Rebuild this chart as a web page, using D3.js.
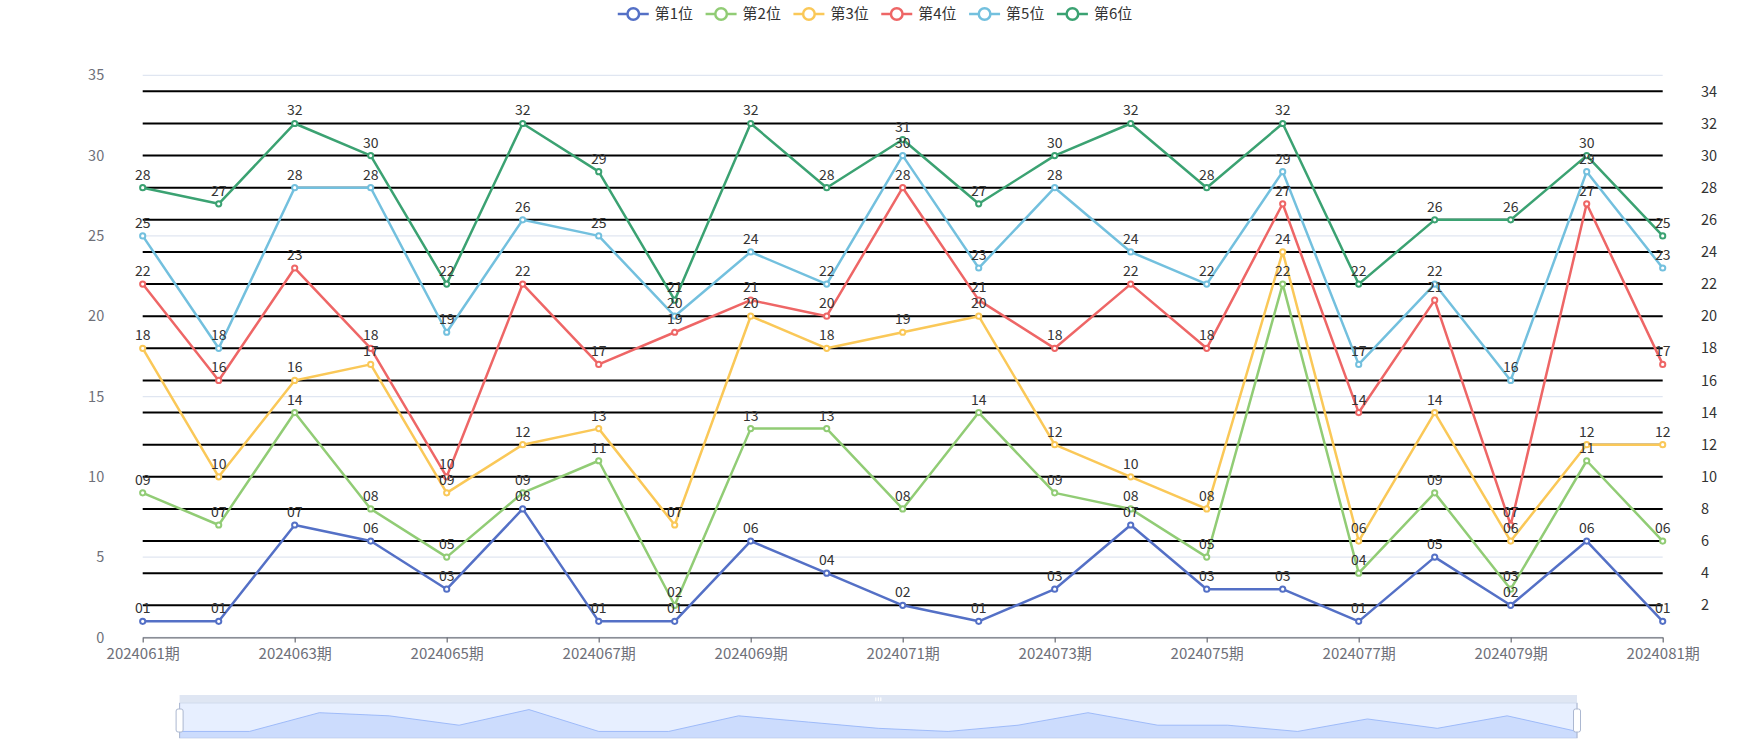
<!DOCTYPE html>
<html><head><meta charset="utf-8">
<script src="https://cdn.jsdelivr.net/npm/d3@7"></script>
<style>
body{margin:0;background:#fff}
svg{display:block}
text{font-family:"Noto Sans CJK SC","Noto Sans",sans-serif}
</style>
</head><body>
<svg id="c" width="1750" height="750"></svg>
<script>
// ---------------- data ----------------
const categories = ["2024061期","2024062期","2024063期","2024064期","2024065期","2024066期","2024067期",
  "2024068期","2024069期","2024070期","2024071期","2024072期","2024073期","2024074期","2024075期",
  "2024076期","2024077期","2024078期","2024079期","2024080期","2024081期"];
const seriesNames = ["第1位","第2位","第3位","第4位","第5位","第6位"];
const seriesColors = ["#5470c6","#91cc75","#fac858","#ee6666","#73c0de","#3ba272"];
const pos1 = [1,1,7,6,3,8,1,1,6,4,2,1,3,7,3,3,1,5,2,6,1];
const pos2 = [9,7,14,8,5,9,11,2,13,13,8,14,9,8,5,22,4,9,3,11,6];
const pos3 = [18,10,16,17,9,12,13,7,20,18,19,20,12,10,8,24,6,14,6,12,12];
const pos4 = [22,16,23,18,10,22,17,19,21,20,28,21,18,22,18,27,14,21,7,27,17];
const pos5 = [25,18,28,28,19,26,25,20,24,22,30,23,28,24,22,29,17,22,16,29,23];
const pos6 = [28,27,32,30,22,32,29,21,32,28,31,27,30,32,28,32,22,26,26,30,25];
const leftTicks = [0,5,10,15,20,25,30,35];
const rightTicks = [2,4,6,8,10,12,14,16,18,20,22,24,26,28,30,32,34];
const xTickLabels = categories.filter((d,i)=>i%2===0);

const allSeries = [pos1,pos2,pos3,pos4,pos5,pos6];

// ---------------- layout ----------------
const svg = d3.select("#c");
const plot = {left:142.7, right:1662.7, top:75.3, bottom:637.4};
const x = d3.scalePoint().domain(categories).range([plot.left, plot.right]);
const y = d3.scaleLinear().domain([0,35]).range([plot.bottom, plot.top]);
const yR = d3.scaleLinear().domain([0,35]).range([plot.bottom, plot.top]);

// light split lines (left axis)
svg.append("g").selectAll("line").data(leftTicks).join("line")
  .attr("x1",plot.left).attr("x2",plot.right)
  .attr("y1",d=>y(d)).attr("y2",d=>y(d))
  .attr("stroke","#e0e6f1").attr("stroke-width",1.25);

// black split lines (right axis)
svg.append("g").selectAll("line").data(rightTicks).join("line")
  .attr("x1",plot.left).attr("x2",plot.right)
  .attr("y1",d=>yR(d)).attr("y2",d=>yR(d))
  .attr("stroke","#000").attr("stroke-width",2);

// left axis labels
const gL = svg.append("g").attr("transform",`translate(${plot.left},0)`)
  .call(d3.axisLeft(y).tickValues(leftTicks).tickSize(0).tickPadding(38.5));
gL.select(".domain").remove();
gL.selectAll("text").attr("font-size",14.5).attr("fill","#6e7079")
  .attr("font-family",'"Noto Sans CJK SC","Noto Sans",sans-serif');

// right axis labels
const gR = svg.append("g").attr("transform",`translate(${plot.right},0)`)
  .call(d3.axisRight(yR).tickValues(rightTicks).tickSize(0).tickPadding(38.3));
gR.select(".domain").remove();
gR.selectAll("text").attr("font-size",14.5).attr("fill","#333")
  .attr("font-family",'"Noto Sans CJK SC","Noto Sans",sans-serif');

// x axis
const gX = svg.append("g").attr("transform",`translate(0,${plot.bottom})`)
  .call(d3.axisBottom(x).tickValues(xTickLabels).tickSize(5).tickSizeOuter(0).tickPadding(6));
gX.select(".domain").attr("stroke","#6e7079").attr("stroke-width",1.25);
gX.selectAll(".tick line").attr("stroke","#6e7079").attr("stroke-width",1.25);
gX.selectAll("text").attr("font-size",15).attr("fill","#6e7079")
  .attr("font-family",'"Noto Sans CJK SC","Noto Sans",sans-serif');

// series
const line = d3.line().x((d,i)=>x(categories[i])).y(d=>y(d));
const gS = svg.append("g");
allSeries.forEach((arr,si)=>{
  gS.append("path").datum(arr).attr("d",line).attr("fill","none")
    .attr("stroke",seriesColors[si]).attr("stroke-width",2.5).attr("stroke-linejoin","round");
});
allSeries.forEach((arr,si)=>{
  gS.append("g").selectAll("circle").data(arr).join("circle")
    .attr("cx",(d,i)=>x(categories[i])).attr("cy",d=>y(d)).attr("r",2.6)
    .attr("fill","#fff").attr("stroke",seriesColors[si]).attr("stroke-width",2);
});
const fmt = d3.format("02d");
allSeries.forEach((arr,si)=>{
  gS.append("g").selectAll("text").data(arr).join("text")
    .attr("x",(d,i)=>x(categories[i])).attr("y",d=>y(d)-8)
    .attr("text-anchor","middle").attr("font-size",14).attr("fill","#333")
    .text(d=>fmt(d));
});

// legend
const gLeg = svg.append("g");
let lx = 0;
const items = [];
seriesNames.forEach((n,i)=>{
  const g = gLeg.append("g");
  g.append("line").attr("x1",0).attr("x2",31).attr("y1",0).attr("y2",0)
    .attr("stroke",seriesColors[i]).attr("stroke-width",2.5);
  g.append("circle").attr("cx",15.5).attr("cy",0).attr("r",5.8)
    .attr("fill","#fff").attr("stroke",seriesColors[i]).attr("stroke-width",2.5);
  const t = g.append("text").attr("x",37).attr("y",0).attr("dy","0.35em")
    .attr("font-size",15).attr("fill","#333").text(n);
  const w = 37 + t.node().getComputedTextLength();
  items.push({g,w});
});
const gap = 12.5;
const total = d3.sum(items,d=>d.w) + gap*(items.length-1);
let cx = 875 - total/2;
items.forEach(it=>{ it.g.attr("transform",`translate(${cx},14)`); cx += it.w + gap; });

// data zoom slider
const sz = {x0:179.6, x1:1577, top:695, barB:703, bottom:738};
const gZ = svg.append("g");
gZ.append("rect").attr("x",sz.x0).attr("y",sz.top).attr("width",sz.x1-sz.x0).attr("height",sz.barB-sz.top)
  .attr("fill","#d2dbee").attr("opacity",0.7);
gZ.append("rect").attr("x",sz.x0).attr("y",sz.barB).attr("width",sz.x1-sz.x0).attr("height",sz.bottom-sz.barB)
  .attr("fill","rgba(135,175,255,0.2)").attr("stroke","#d2dbee").attr("stroke-width",1);
const ext = d3.extent(pos1); const off = (ext[1]-ext[0])*0.3;
const zx = d3.scalePoint().domain(categories).range([sz.x0, sz.x1]);
const zy = d3.scaleLinear().domain([ext[0]-off, ext[1]+off]).range([sz.bottom, sz.barB]);
const area = d3.area().x((d,i)=>zx(categories[i])).y0(sz.bottom).y1(d=>zy(d));
gZ.append("path").datum(pos1).attr("d",area).attr("fill","#8fb0f7").attr("opacity",0.3);
gZ.append("path").datum(pos1).attr("d",d3.line().x((d,i)=>zx(categories[i])).y(d=>zy(d)))
  .attr("fill","none").attr("stroke","#8fb0f7").attr("stroke-width",0.8);
[sz.x0, sz.x1].forEach(hx=>{
  gZ.append("line").attr("x1",hx).attr("x2",hx).attr("y1",sz.barB).attr("y2",sz.bottom)
    .attr("stroke","#acb8d1").attr("stroke-width",1);
  gZ.append("rect").attr("x",hx-3.5).attr("y",(sz.barB+sz.bottom)/2-11.5).attr("width",7).attr("height",23)
    .attr("rx",2).attr("fill","#fff").attr("stroke","#acb8d1").attr("stroke-width",1);
});
[-2.5,0,2.5].forEach(dx=>{
  gZ.append("rect").attr("x",(sz.x0+sz.x1)/2+dx-0.6).attr("y",sz.top+2.2).attr("width",1.2).attr("height",4)
    .attr("rx",0.6).attr("fill","#fff");
});
</script>
</body></html>
